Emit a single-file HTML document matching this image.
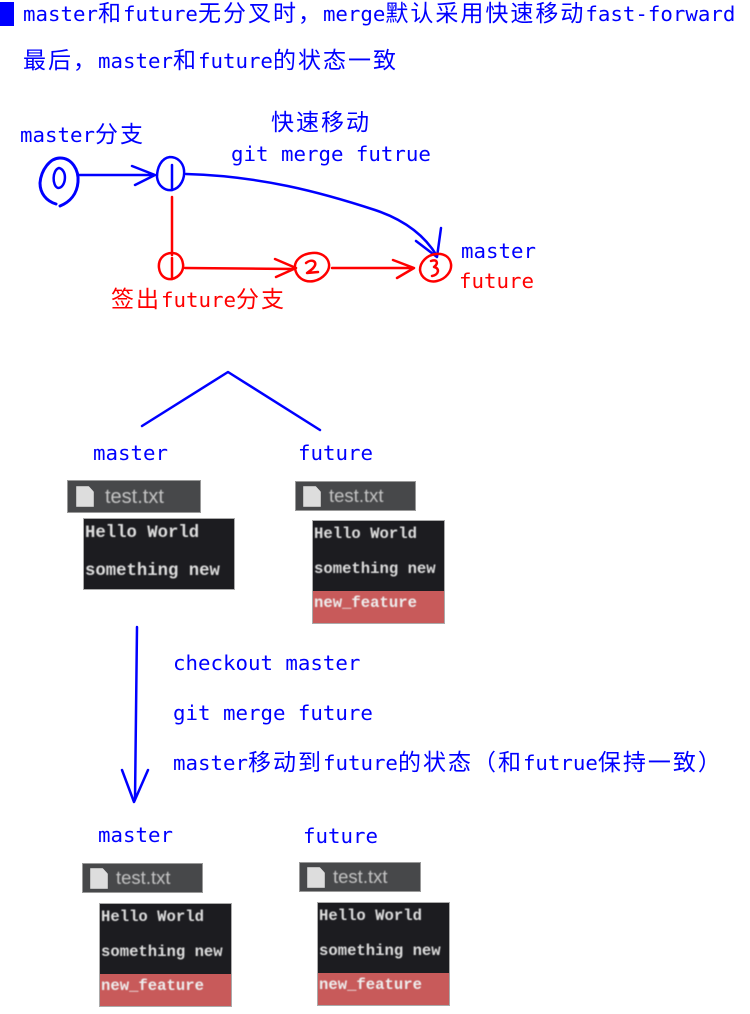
<!DOCTYPE html>
<html><head><meta charset="utf-8">
<style>
html,body{margin:0;padding:0;background:#fff;width:750px;height:1014px;overflow:hidden}
.t{position:absolute;white-space:nowrap;font-family:"DejaVu Sans Mono",monospace;font-size:20.75px;line-height:28px;color:#00f}
.t span{font-family:"WenQuanYi Zen Hei","Noto Sans CJK SC",sans-serif;font-size:23px;letter-spacing:2px}
.r{color:#f00}
.b{position:absolute;background:#47484a;border:1px solid #999;box-sizing:border-box}
.b i{position:absolute;left:7px;top:4px;width:18px;height:21px;background:#ddd;clip-path:polygon(0 0,70% 0,100% 28%,100% 100%,0 100%);filter:blur(.6px)}
.b b{position:absolute;left:33px;top:4px;font:18.5px/20px "Liberation Sans",sans-serif;color:#c4c4c4;filter:blur(.6px)}
.w{position:absolute;background:#1c1c20;box-sizing:border-box;border:1px solid #aaa}
.w div{position:absolute;left:1px;font:bold 15.6px/20px "Liberation Mono",monospace;color:#ddd;white-space:nowrap;filter:blur(.6px)}
.w u{position:absolute;left:0;right:0;bottom:0;height:32px;background:#c85a5a}
svg{position:absolute;left:0;top:0;filter:blur(.3px)}
</style></head><body>
<div style="position:absolute;left:0;top:2px;width:14px;height:24px;background:#00f"></div>
<div class="t" style="left:23px;top:-3px">master<span>和</span>future<span>无分叉时，</span>merge<span>默认采用快速移动</span>fast-forward</div>
<div class="t" style="left:23px;top:44px"><span>最后，</span>master<span>和</span>future<span>的状态一致</span></div>
<div class="t" style="left:20px;top:118px">master<span>分支</span></div>
<div class="t" style="left:271px;top:106px"><span>快速移动</span></div>
<div class="t" style="left:231px;top:140px">git merge futrue</div>
<div class="t" style="left:461px;top:237px">master</div>
<div class="t r" style="left:459px;top:267px">future</div>
<div class="t r" style="left:111px;top:283px"><span>签出</span>future<span>分支</span></div>
<div class="t" style="left:93px;top:439px">master</div>
<div class="t" style="left:298px;top:439px">future</div>
<div class="t" style="left:173px;top:649px">checkout master</div>
<div class="t" style="left:173px;top:699px">git merge future</div>
<div class="t" style="left:173px;top:746px">master<span>移动到</span>future<span>的状态（和</span>futrue<span>保持一致）</span></div>
<div class="t" style="left:98px;top:821px">master</div>
<div class="t" style="left:303px;top:822px">future</div>

<svg width="750" height="1014" fill="none" stroke-linecap="round" stroke-linejoin="round">
<g stroke="#00f" stroke-width="2.5">
<path d="M56 204C46 201 40 193 40 183C41 170 50 158 60 158C72 158 79 170 78 182C77 194 70 202 60 206" stroke-width="3"/>
<path d="M59 168C52 170 52 186 58 188C66 188 68 170 59 168" stroke-width="2.5"/>
<path d="M78 175H155M132 166L155 175L135 185"/>
<path d="M170 157C161 158 157 168 157 177C158 186 165 191 172 190C181 188 185 178 184 170C183 162 177 157 170 157"/>
<path d="M172 165V190"/>
<path d="M186 174C260 176 320 192 375 210C405 220 425 236 437 256M416 241L437 257L441 228"/>
<path d="M142 426L228 372L320 430M137 627L135 800M122 770L134 802L148 770"/>
</g>
<g stroke="#f00" stroke-width="2.5">
<path d="M172 197V255"/>
<path d="M172 253C163 253 158 260 159 268C160 276 166 280 172 279C180 277 184 270 183 264C182 257 178 253 172 253"/>
<path d="M172 258V279"/>
<path d="M185 268L295 269M275 259L296 268L276 277"/>
<path d="M312 253C301 254 294 261 295 268C296 277 304 283 314 281C323 279 330 271 329 264C328 257 321 252 312 253"/>
<path d="M306 263C312 258 318 262 314 267C312 270 308 272 307 273L318 272"/>
<path d="M332 268H412M393 260L414 268L397 278"/>
<path d="M436 254C427 255 420 262 420 270C421 278 429 283 437 281C446 279 452 271 451 264C450 257 444 253 436 254"/>
<path d="M431 261C437 259 439 263 434 267C440 268 439 275 432 276"/>
</g>
</svg>

<div class="b" style="left:67px;top:480px;width:134px;height:33px"><i style="left:8px;top:5px"></i><b style="left:37px;top:6px;font-size:20px">test.txt</b></div>
<div class="w" style="left:83px;top:518px;width:152px;height:72px"><div style="top:5px;font-size:17.3px">Hello World</div><div style="top:43px;font-size:17.3px">something new</div></div>

<div class="b" style="left:295px;top:481px;width:121px;height:30px"><i></i><b>test.txt</b></div>
<div class="w" style="left:312px;top:520px;width:133px;height:104px"><u></u><div style="top:3px">Hello World</div><div style="top:38px">something new</div><div style="top:72px;color:#eee">new_feature</div></div>

<div class="b" style="left:82px;top:863px;width:121px;height:30px"><i></i><b>test.txt</b></div>
<div class="w" style="left:99px;top:903px;width:133px;height:104px"><u></u><div style="top:3px">Hello World</div><div style="top:38px">something new</div><div style="top:72px;color:#eee">new_feature</div></div>

<div class="b" style="left:299px;top:862px;width:122px;height:30px"><i></i><b>test.txt</b></div>
<div class="w" style="left:317px;top:902px;width:133px;height:104px"><u></u><div style="top:3px">Hello World</div><div style="top:38px">something new</div><div style="top:72px;color:#eee">new_feature</div></div>
</body></html>
